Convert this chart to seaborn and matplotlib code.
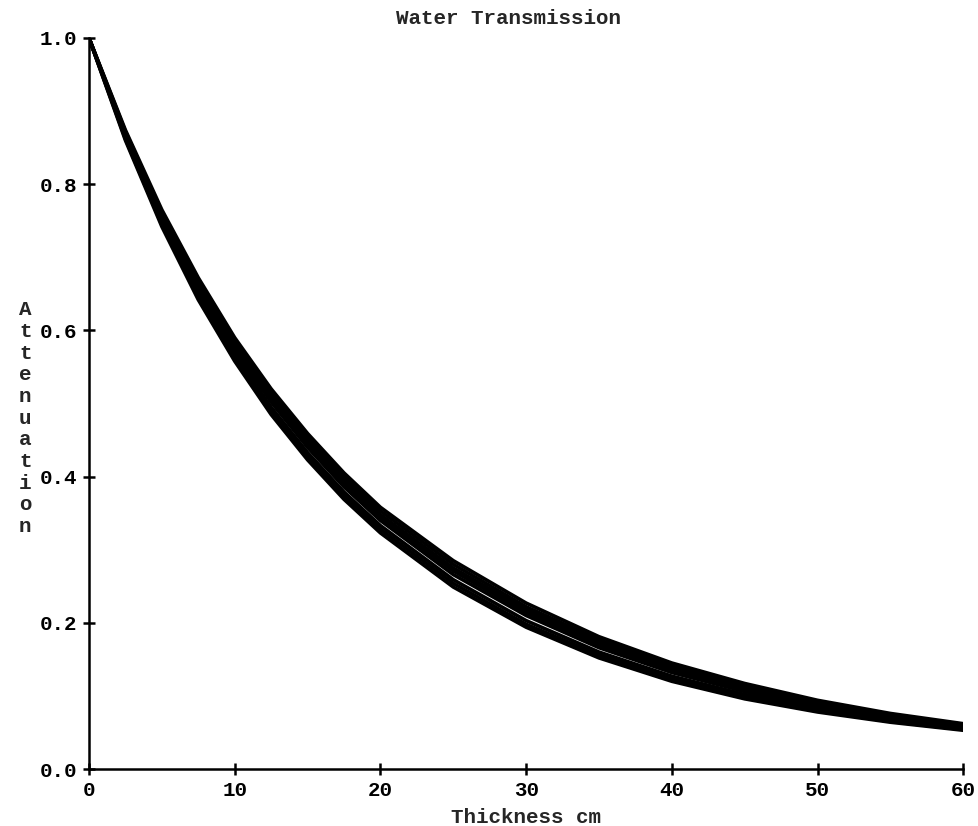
import matplotlib
matplotlib.use("Agg")
import matplotlib.pyplot as plt
import seaborn as sns
import pandas as pd

thickness = [0, 2.5, 5, 7.5, 10, 12.5, 15, 17.5, 20, 25, 30, 35, 40, 45, 50, 55, 60]

curve_a = [1.0, 0.874, 0.765, 0.672, 0.590, 0.520, 0.459, 0.405, 0.358, 0.285, 0.227, 0.181, 0.145, 0.117, 0.094, 0.076, 0.062]
curve_b = [1.0, 0.872, 0.761, 0.667, 0.585, 0.515, 0.454, 0.400, 0.353, 0.280, 0.222, 0.177, 0.141, 0.114, 0.092, 0.074, 0.061]
curve_c = [1.0, 0.870, 0.758, 0.663, 0.581, 0.510, 0.449, 0.395, 0.348, 0.275, 0.218, 0.173, 0.138, 0.111, 0.089, 0.072, 0.059]
curve_d = [1.0, 0.868, 0.755, 0.659, 0.577, 0.506, 0.445, 0.391, 0.344, 0.271, 0.214, 0.170, 0.135, 0.108, 0.087, 0.070, 0.058]
curve_e = [1.0, 0.866, 0.752, 0.655, 0.573, 0.502, 0.440, 0.386, 0.340, 0.266, 0.210, 0.166, 0.132, 0.106, 0.085, 0.069, 0.057]
curve_f = [1.0, 0.864, 0.748, 0.650, 0.567, 0.495, 0.433, 0.379, 0.333, 0.259, 0.203, 0.160, 0.127, 0.102, 0.082, 0.067, 0.055]
curve_g = [1.0, 0.862, 0.745, 0.646, 0.562, 0.490, 0.428, 0.374, 0.328, 0.254, 0.198, 0.156, 0.123, 0.099, 0.080, 0.065, 0.054]
curve_h = [1.0, 0.860, 0.742, 0.642, 0.558, 0.485, 0.423, 0.369, 0.323, 0.249, 0.194, 0.152, 0.120, 0.096, 0.078, 0.064, 0.053]

curves = {"A": curve_a, "B": curve_b, "C": curve_c, "D": curve_d,
          "E": curve_e, "F": curve_f, "G": curve_g, "H": curve_h}

x_ticks = [0, 10, 20, 30, 40, 50, 60]
y_ticks = [0.0, 0.2, 0.4, 0.6, 0.8, 1.0]

rows = []
for name, vals in curves.items():
    for t, v in zip(thickness, vals):
        rows.append({"curve": name, "thickness": t, "attenuation": v})
df = pd.DataFrame(rows)

sns.set_style("ticks")
plt.rcParams["font.family"] = ["Liberation Mono", "DejaVu Sans Mono"]
plt.rcParams["font.weight"] = "bold"

fig = plt.figure(figsize=(9.79, 8.26), dpi=100)
ax = fig.add_axes([0.0909, 0.069, 0.893, 0.885])

sns.lineplot(data=df, x="thickness", y="attenuation", hue="curve",
             palette=["black"] * len(curves), legend=False, linewidth=2.6,
             ax=ax, sort=False, estimator=None)

ax.set_xlim(0, 60)
ax.set_ylim(0, 1.0)
ax.set_xticks(x_ticks)
ax.set_yticks(y_ticks)
ax.set_xticklabels([str(v) for v in x_ticks])
ax.set_yticklabels([f"{v:.1f}" for v in y_ticks])
sns.despine(ax=ax)
for s in ["left", "bottom"]:
    ax.spines[s].set_linewidth(1.8)
    ax.spines[s].set_color("black")
ax.tick_params(direction="inout", length=9, width=1.8, color="black",
               labelsize=15, labelcolor="black", pad=4)
for lbl in ax.get_xticklabels() + ax.get_yticklabels():
    lbl.set_fontweight("bold")

ax.set_xlabel("Thickness cm", fontsize=15, fontweight="bold", labelpad=6)
ax.set_ylabel("\n".join("Attenuation"), fontsize=15, fontweight="bold",
              rotation=0, va="center", ha="center", linespacing=1.18)
ax.yaxis.set_label_coords(-0.073, 0.48)
ax.set_title("Water Transmission", fontsize=15, fontweight="bold", pad=10,
             x=0.48)

fig.savefig("out.png", dpi=100)
